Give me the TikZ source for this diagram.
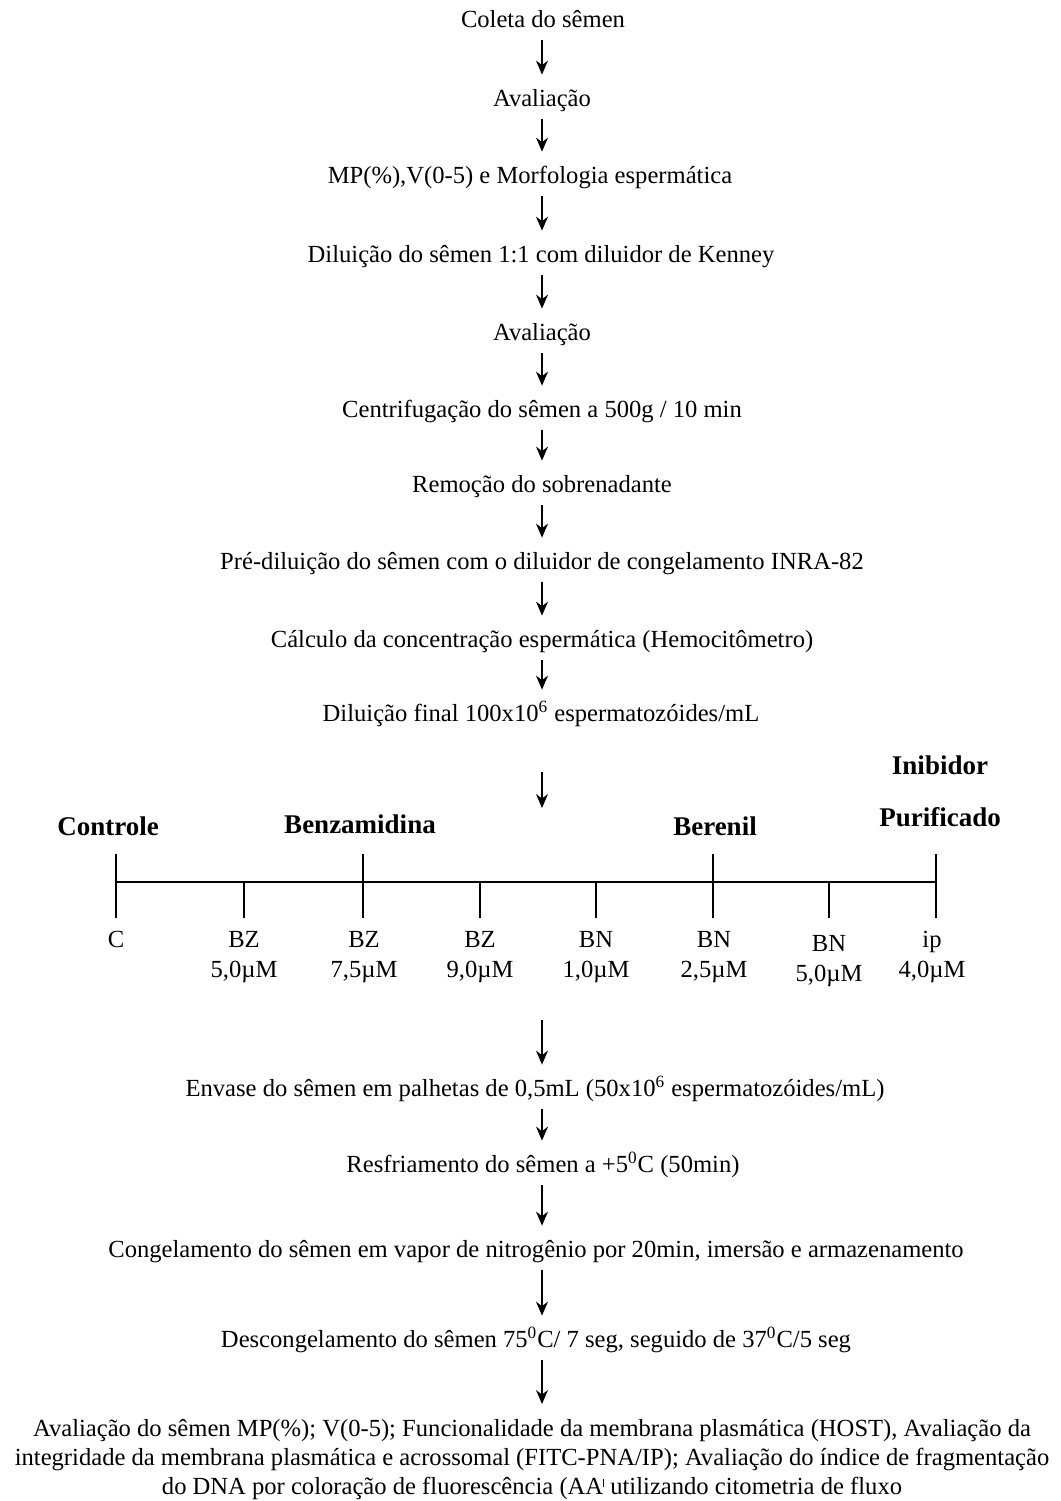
\documentclass[tikz,border=0pt]{standalone}
\usepackage{fontspec}
\setmainfont{Liberation Serif}
\usetikzlibrary{arrows.meta}

\begin{document}
\begin{tikzpicture}[x=0.5pt, y=-0.5pt,
  st/.style={anchor=base, inner sep=0pt, text height=8pt, text depth=2.5pt,
    font=\fontsize{12.3}{14.5}\selectfont},
  grp/.style={anchor=base, inner sep=0pt, font=\fontsize{13.5}{16}\selectfont\bfseries},
  dose/.style={anchor=north, align=center, inner sep=0pt, font=\fontsize{12.3}{15}\selectfont},
  flow/.style={-{Stealth[length=7pt, width=6pt]}, line width=0.6pt,
    shorten <=4pt, shorten >=7.5pt},
  bar/.style={line width=0.6pt}]

\useasboundingbox (0,0) rectangle (1061,1501);
\coordinate (axis) at (542,0);

% Steps before the treatments
\node[st] (s1) at (543,27) {Coleta do sêmen};
\node[st] (s2) at (542,106) {Avaliação};
\node[st] (s3) at (530,183) {MP(\%),V(0-5) e Morfologia espermática};
\node[st] (s4) at (541,262) {Diluição do sêmen 1:1 com diluidor de Kenney};
\node[st] (s5) at (542,340) {Avaliação};
\node[st] (s6) at (542,417) {Centrifugação do sêmen a 500g / 10 min};
\node[st] (s7) at (542,492) {Remoção do sobrenadante};
\node[st] (s8) at (542,569) {Pré-diluição do sêmen com o diluidor de congelamento INRA-82};
\node[st] (s9) at (542,647) {Cálculo da concentração espermática (Hemocitômetro)};
\node[st] (s10) at (541,721) {Diluição final 100x10\textsuperscript{6} espermatozóides/mL};

% Treatment groups
\node[grp] (ctl) at (108,835) {Controle};
\node[grp] (bz) at (360,833) {Benzamidina};
\node[grp] (bn) at (715,835) {Berenil};
\node[grp, anchor=north, align=center, font=\fontsize{13.5}{26}\selectfont\bfseries]
  (ip) at (940,755) {Inibidor\\Purificado};

\coordinate (split) at (542,808);
\coordinate (bl) at (116,882);
\coordinate (br) at (936,882);
\draw[bar] (bl) -- (br);
\foreach \x in {116,363,713,936} { \draw[bar] (\x,854) -- (\x,918); }
\foreach \x in {244,480,596,829} { \draw[bar] (\x,882) -- (\x,918); }

% Doses
\node[dose] (dc) at (116,931) {C};
\foreach \n/\x/\t/\y in {bz1/244/{BZ\\5,0µM}/931, bz2/364/{BZ\\7,5µM}/931,
  bz3/480/{BZ\\9,0µM}/931, bn1/596/{BN\\1,0µM}/931, bn2/714/{BN\\2,5µM}/931,
  bn3/829/{BN\\5,0µM}/935, ip1/932/{ip\\4,0µM}/931}
  { \node[dose] (\n) at (\x,\y) {\t}; }

\coordinate (merge) at (542,1020);

% Steps after the treatments
\node[st] (s11) at (535,1096) {Envase do sêmen em palhetas de 0,5mL (50x10\textsuperscript{6} espermatozóides/mL)};
\node[st] (s12) at (543,1172) {Resfriamento do sêmen a +5\textsuperscript{0}C (50min)};
\node[st] (s13) at (536,1257) {Congelamento do sêmen em vapor de nitrogênio por 20min, imersão e armazenamento};
\node[st] (s14) at (536,1347) {Descongelamento do sêmen 75\textsuperscript{0}C/ 7 seg, seguido de 37\textsuperscript{0}C/5 seg};
\node[dose, font=\fontsize{12.3}{14.5}\selectfont] (s15) at (532,1419)
  {Avaliação do sêmen MP(\%); V(0-5); Funcionalidade da membrana plasmática (HOST), Avaliação da\\
   integridade da membrana plasmática e acrossomal (FITC-PNA/IP); Avaliação do índice de fragmentação\\
   do DNA por coloração de fluorescência (AA\rule[0.3em]{0.5pt}{0.35em} utilizando citometria de fluxo};

% Arrows
\foreach \a/\b in {s1/s2, s2/s3, s3/s4, s4/s5, s5/s6, s6/s7, s7/s8, s8/s9, s9/s10,
  s11/s12, s12/s13, s13/s14, s14/s15}
  { \draw[flow] (axis |- \a.south) -- (axis |- \b.north); }
\draw[flow, shorten <=23pt, shorten >=0pt] (axis |- s10.south) -- (split);
\draw[flow, shorten <=0pt] (merge) -- (axis |- s11.north);

\end{tikzpicture}
\end{document}
